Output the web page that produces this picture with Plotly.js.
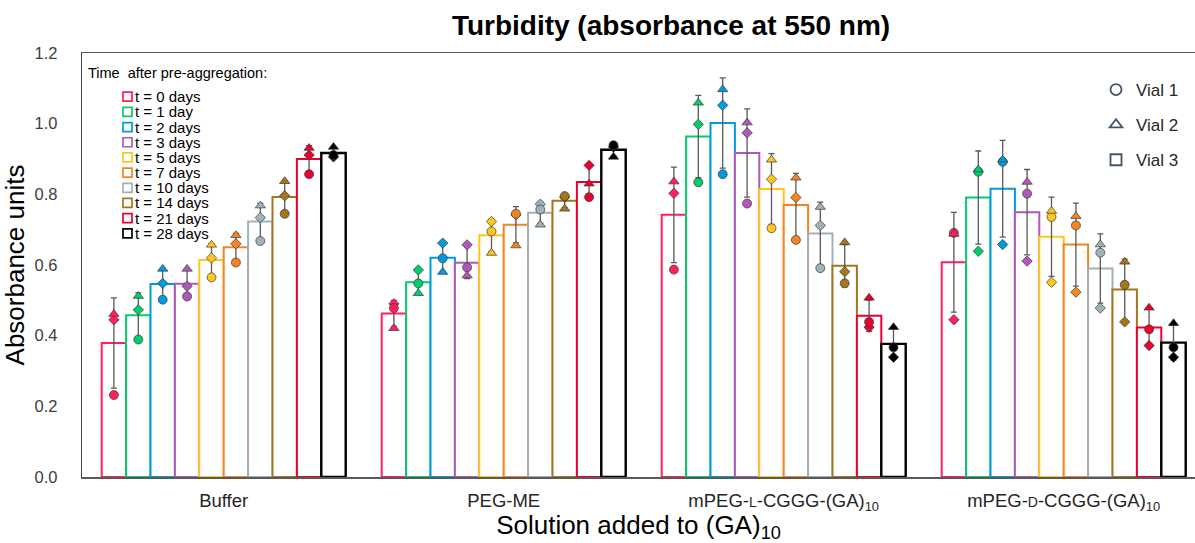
<!DOCTYPE html>
<html>
<head>
<meta charset="utf-8">
<script src="https://cdn.plot.ly/plotly-3.0.1.min.js"></script>
<style>html,body{margin:0;padding:0;background:#fff;}#chart{width:1195px;height:543px;}</style>
</head>
<body>
<div id="chart"></div>
<script>
// ---- Data ----
const groupLabels = ['Buffer', 'PEG-ME',
  'mPEG-<span style="font-size:14px">L</span>-CGGG-(GA)<sub>10</sub>',
  'mPEG-<span style="font-size:14px">D</span>-CGGG-(GA)<sub>10</sub>'];
const timeLabels = ['t = 0 days','t = 1 day','t = 2 days','t = 3 days','t = 5 days',
  't = 7 days','t = 10 days','t = 14 days','t = 21 days','t = 28 days'];
const timeColors = ['#FF1F5B','#00CD6C','#009ADE','#AF58BA','#FFC61E',
  '#F28522','#A0B1BA','#A6761D','#E9002D','#000000'];

// Vial 1 (circles), per group, per time point
const vial1Buffer = [0.232, 0.389, 0.502, 0.511, 0.565, 0.607, 0.668, 0.745, 0.857, 0.911];
const vial1PegMe  = [0.478, 0.548, 0.619, 0.593, 0.695, 0.745, 0.757, 0.795, 0.792, 0.939];
const vial1MpegL  = [0.587, 0.834, 0.857, 0.774, 0.704, 0.671, 0.591, 0.548, 0.439, 0.367];
const vial1MpegD  = [0.691, 0.864, 0.892, 0.802, 0.736, 0.712, 0.635, 0.544, 0.418, 0.367];
// Vial 2 (triangles)
const vial2Buffer = [0.461, 0.512, 0.589, 0.589, 0.657, 0.684, 0.768, 0.837, 0.931, 0.934];
const vial2PegMe  = [0.421, 0.520, 0.580, 0.570, 0.634, 0.655, 0.714, 0.759, 0.830, 0.906];
const vial2MpegL  = [0.836, 1.059, 1.097, 1.003, 0.898, 0.847, 0.764, 0.664, 0.507, 0.424];
const vial2MpegD  = [0.688, 0.870, 0.898, 0.835, 0.753, 0.738, 0.658, 0.609, 0.479, 0.435];
// Vial 3 (diamonds)
const vial3Buffer = [0.445, 0.473, 0.548, 0.540, 0.620, 0.660, 0.734, 0.796, 0.911, 0.906];
const vial3PegMe  = [0.490, 0.586, 0.662, 0.657, 0.723, 0.742, 0.772, 0.792, 0.882, 0.934];
const vial3MpegL  = [0.803, 0.998, 1.052, 0.974, 0.843, 0.791, 0.712, 0.581, 0.424, 0.339];
const vial3MpegD  = [0.445, 0.639, 0.658, 0.611, 0.551, 0.523, 0.478, 0.439, 0.372, 0.339];

const vial1 = [vial1Buffer, vial1PegMe, vial1MpegL, vial1MpegD];
const vial2 = [vial2Buffer, vial2PegMe, vial2MpegL, vial2MpegD];
const vial3 = [vial3Buffer, vial3PegMe, vial3MpegL, vial3MpegD];

// ---- Layout constants ----
const FONT = 'Arial, "Liberation Sans", sans-serif';
const L = 82, R = 1195, T = 53, B = 477;
const BARGAP = 0.1286;
const nT = timeLabels.length, nG = groupLabels.length;
const w = (1 - BARGAP) / nT;
const px = x => (x - L) / (R - L);
const py = y => (B - y) / (B - T);

function mean(a){ return a.reduce((s,v)=>s+v,0)/a.length; }
function sd(a){ const m = mean(a); return Math.sqrt(a.reduce((s,v)=>s+(v-m)*(v-m),0)/(a.length-1)); }

const traces = [];
// bars (mean of three vials, SD error bars)
for (let i = 0; i < nT; i++) {
  const ys = [], es = [];
  for (let g = 0; g < nG; g++) {
    const v = [vial1[g][i], vial2[g][i], vial3[g][i]];
    ys.push(mean(v)); es.push(sd(v));
  }
  traces.push({
    type: 'bar', x: [0,1,2,3], y: ys, name: timeLabels[i], showlegend: false,
    marker: {color: '#ffffff', line: {color: timeColors[i], width: i === nT-1 ? 2.4 : 2}},
    error_y: {type: 'data', array: es, visible: true, color: '#595959', thickness: 1.3, width: 3},
    hoverinfo: 'skip'
  });
}
// individual vial points
const vialDefs = [
  {data: vial3, symbol: 'diamond', size: 8, name: 'Vial 3'},
  {data: vial1, symbol: 'circle', size: 9, name: 'Vial 1'},
  {data: vial2, symbol: 'triangle-up', size: 9, name: 'Vial 2'}
];
vialDefs.forEach(d => {
  const xs = [], ys = [], cs = [];
  for (let g = 0; g < nG; g++) for (let i = 0; i < nT; i++) {
    xs.push(g + (i - (nT-1)/2) * w); ys.push(d.data[g][i]); cs.push(timeColors[i]);
  }
  traces.push({type: 'scatter', mode: 'markers', x: xs, y: ys, showlegend: false, hoverinfo: 'skip',
    marker: {symbol: d.symbol, size: d.size, color: cs, line: {color: '#3a3a3a', width: 0.7}}});
});
// legend entries for vials
[['Vial 1','circle-open'],['Vial 2','triangle-up-open'],['Vial 3','square-open']].forEach((v, k) => {
  traces.push({type: 'scatter', mode: 'markers', x: [null], y: [null], name: v[0],
    legend: 'legend2', legendgroup: 'g' + k, showlegend: true,
    marker: {symbol: v[1], size: 11, color: '#44546A', line: {color: '#44546A', width: 1.8}}});
});

// time legend as annotations + swatches
const annotations = [{
  text: 'Time\u00a0 after pre-aggregation:', xref: 'paper', yref: 'paper',
  x: px(86), y: py(73), xanchor: 'left', yanchor: 'middle', showarrow: false,
  font: {family: FONT, size: 14.5, color: '#000'}
}];
const shapes = [];
for (let i = 0; i < nT; i++) {
  const cy = 96.7 + i * 15.18;
  annotations.push({text: timeLabels[i], xref: 'paper', yref: 'paper', x: px(133), y: py(cy),
    xanchor: 'left', yanchor: 'middle', showarrow: false, font: {family: FONT, size: 15, color: '#000'}});
  shapes.push({type: 'rect', xref: 'paper', yref: 'paper', x0: px(123), x1: px(132), y0: py(cy + 4.5), y1: py(cy - 4.5),
    line: {color: timeColors[i], width: 1.7}, fillcolor: '#ffffff'});
}

const layout = {
  width: 1195, height: 543,
  margin: {l: L, r: 1195 - R, t: T, b: 543 - B, pad: 0},
  paper_bgcolor: '#ffffff', plot_bgcolor: '#ffffff',
  barmode: 'group', bargap: BARGAP, bargroupgap: 0,
  font: {family: FONT, color: '#262626'},
  title: {text: '<b>Turbidity (absorbance at 550 nm)</b>', x: 671/1195, xanchor: 'center', xref: 'container',
    y: 1 - 25/543, yanchor: 'middle', yref: 'container', font: {family: FONT, size: 28, color: '#000'}},
  xaxis: {range: [(L - 223.7)/280, (R - 223.7)/280], tickvals: [0,1,2,3], ticktext: groupLabels,
    showgrid: false, zeroline: false, ticks: '', showline: true, linecolor: '#595959', linewidth: 1.5, mirror: true,
    tickfont: {family: FONT, size: 18.5, color: '#262626'}, ticklabelstandoff: 6,
    title: {text: 'Solution added to (GA)<sub>10</sub>', font: {family: FONT, size: 26, color: '#000'}, standoff: 4}},
  yaxis: {range: [0, 1.2], dtick: 0.2, tickformat: '.1f', showgrid: false, zeroline: false, ticks: '',
    showline: true, linecolor: '#404040', linewidth: 1.2, mirror: false,
    tickfont: {family: FONT, size: 16.5, color: '#404040'}, ticklabelstandoff: 20,
    title: {text: 'Absorbance units', font: {family: FONT, size: 26, color: '#000'}, standoff: 6}},
  legend2: {x: px(1096), xanchor: 'left', y: py(72), yanchor: 'top', xref: 'paper', yref: 'paper',
    font: {family: FONT, size: 17, color: '#262626'}, bgcolor: 'rgba(0,0,0,0)', tracegroupgap: 10,
    itemwidth: 30, traceorder: 'grouped'},
  showlegend: true,
  annotations: annotations, shapes: shapes
};

Plotly.newPlot('chart', traces, layout, {staticPlot: true, displayModeBar: false});
</script>
</body>
</html>
